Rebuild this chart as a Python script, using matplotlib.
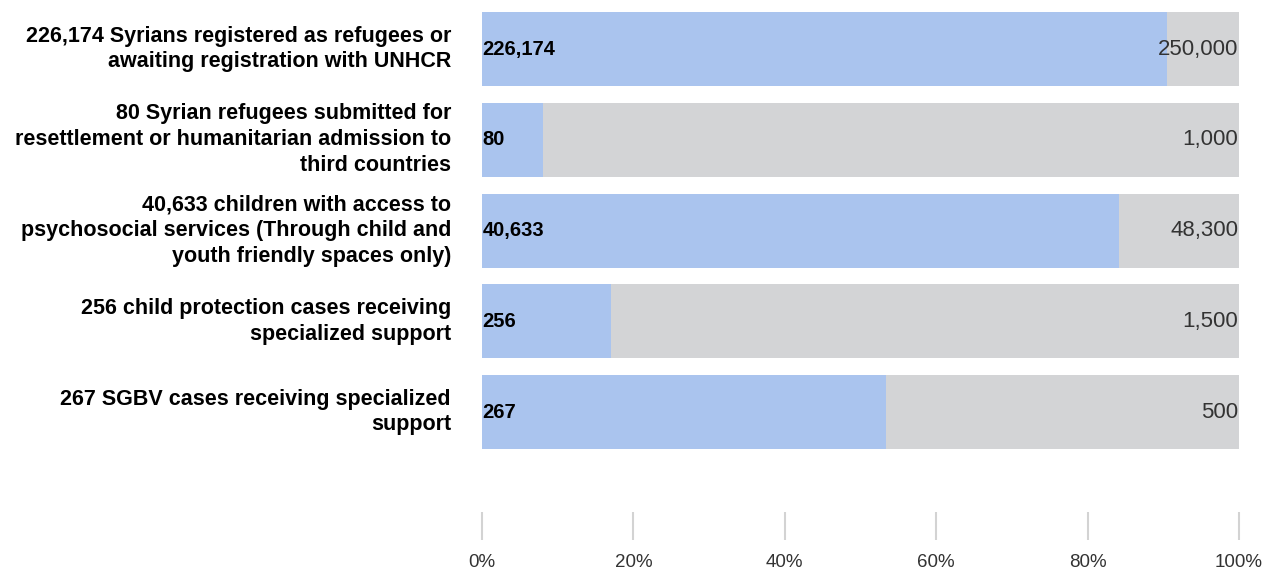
import matplotlib.pyplot as plt
from matplotlib.ticker import PercentFormatter

# indicators, achieved values and targets
labels = [
    "226,174 Syrians registered as refugees or\nawaiting registration with UNHCR",
    "80 Syrian refugees submitted for\nresettlement or humanitarian admission to\nthird countries",
    "40,633 children with access to\npsychosocial services (Through child and\nyouth friendly spaces only)",
    "256 child protection cases receiving\nspecialized support",
    "267 SGBV cases receiving specialized\nsupport",
]
achieved = [226174, 80, 40633, 256, 267]
targets = [250000, 1000, 48300, 1500, 500]

plt.rcParams['font.family'] = ['Liberation Sans', 'DejaVu Sans']

fig = plt.figure(figsize=(12.68, 5.7), dpi=100)
ax = fig.add_axes([482 / 1268, 30 / 570, (1239 - 482) / 1268, 540 / 570])

pct = [a / t * 100 for a, t in zip(achieved, targets)]
rows = list(range(len(labels)))

ax.barh(rows, [100] * len(rows), height=0.815, color='#d3d4d6')
ax.barh(rows, pct, height=0.815, color='#aac4ee')

for i in rows:
    ax.text(0.05, i, f"{achieved[i]:,}", va='center', ha='left',
            fontsize=14.5, fontweight='bold', color='black')
    ax.text(99.9, i, f"{targets[i]:,}", va='center', ha='right',
            fontsize=16, color='#333333')
    ax.text(-4.1, i, labels[i], va='center', ha='right', fontsize=15.5,
            fontweight='bold', color='black', linespacing=1.3)

ax.set_xlim(0, 100)
ax.set_ylim(5.41, -0.54)
ax.set_xticks([0, 20, 40, 60, 80, 100])
ax.xaxis.set_major_formatter(PercentFormatter(decimals=0))
ax.tick_params(axis='x', direction='in', length=20, width=1.5, color='#d3d3d3',
               labelsize=13.5, labelcolor='#333333', pad=10)
ax.tick_params(axis='y', left=False, labelleft=False)
for s in ax.spines.values():
    s.set_visible(False)

fig.savefig('out.png', dpi=100)
